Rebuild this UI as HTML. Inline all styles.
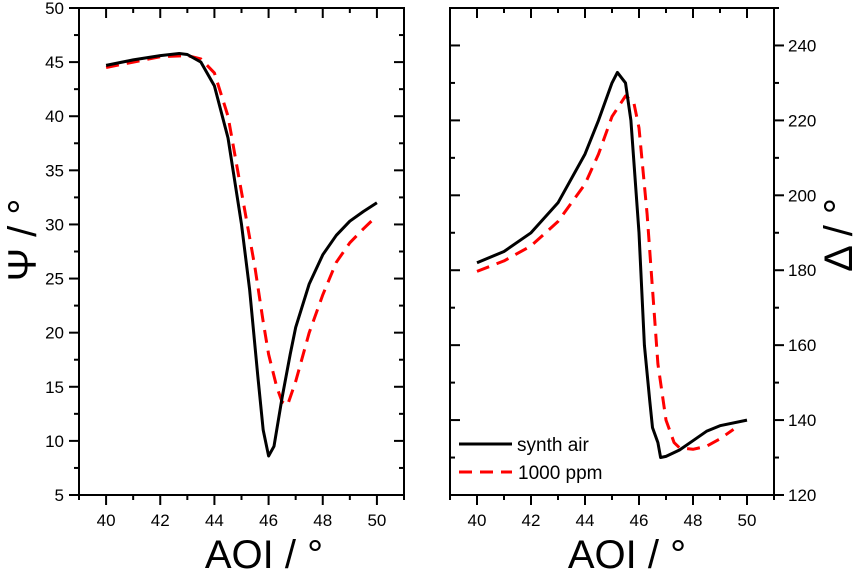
<!DOCTYPE html>
<html><head><meta charset="utf-8"><style>
body{margin:0;background:#fff}
svg text{font-family:"Liberation Sans",sans-serif;fill:#000}
</style></head><body>
<svg id="c" width="860" height="571" viewBox="0 0 860 571"></svg>
<script>
const aoiBlack=[40,41,42,42.7,43,43.5,44,44.5,45,45.3,45.6,45.8,46,46.2,46.5,46.8,47,47.5,48,48.5,49,49.5,50];
const psiBlack=[44.7,45.2,45.6,45.8,45.7,45.0,42.8,38,30,24,16,11,8.6,9.5,14,18,20.5,24.5,27.2,29,30.3,31.2,32];
const aoiRed=[40,41,42,43,43.5,44,44.5,45,45.5,45.8,46,46.3,46.5,46.7,47,47.5,48,48.5,49,49.5,50];
const psiRed=[44.5,45.0,45.5,45.6,45.3,44,40,33,26,21,18,15,13.6,13.3,15.5,20,23.5,26.5,28.3,29.6,30.8];
const aoiBlackD=[40,41,42,43,44,44.5,45,45.2,45.5,45.7,46,46.2,46.4,46.5,46.7,46.8,47,47.5,48,48.5,49,50];
const delBlack=[182,185,190,198,211,220,230,232.8,230,220,190,160,145,138,134,130,130.3,132,134.5,137,138.5,140];
const aoiRedD=[40,41,42,43,44,44.5,45,45.5,45.8,46,46.3,46.5,46.7,47,47.3,47.5,48,48.5,49,49.5];
const delRed=[179.7,182.5,186.5,193,203,211,221,226.5,225,218,195,175,155,140,134,132.6,132.2,133,135,137.5];
const xTicks=[40,42,44,46,48,50];
const psiTicks=[5,10,15,20,25,30,35,40,45,50];
const delTicks=[120,140,160,180,200,220,240];

const svg=document.getElementById('c');const NS='http://www.w3.org/2000/svg';
function el(t,a,p){const e=document.createElementNS(NS,t);for(const k in a)e.setAttribute(k,a[k]);(p||svg).appendChild(e);return e;}
function panel(name,x0,x1,yTop,yBot,ymin,ymax,yTicks,yMinorStep,labelSide,series){
  const g=el('g',{});
  
  
  const sx=v=>x0+(v-39)/(51-39)*(x1-x0);
  const sy=v=>yBot-(v-ymin)/(ymax-ymin)*(yBot-yTop);
  const fr=el('rect',{x:x0,y:yTop,width:x1-x0,height:yBot-yTop,fill:'none',stroke:'#000','stroke-width':2},g);
  
  
  for(let v=39;v<=51;v+=1){const maj=(v%2===0);const L=maj?10:5;
    el('line',{x1:sx(v),x2:sx(v),y1:yBot,y2:yBot+L,stroke:'#000','stroke-width':2},g);
    el('line',{x1:sx(v),x2:sx(v),y1:yTop,y2:yTop+L,stroke:'#000','stroke-width':2},g);}
  xTicks.forEach(v=>{const t=el('text',{x:sx(v),y:yBot+31,'font-size':17,'text-anchor':'middle'},g);t.textContent=v;
    });
  for(let v=ymin;v<=ymax+1e-9;v+=yMinorStep){const maj=yTicks.includes(Math.round(v*10)/10);const L=maj?10:5;const y=sy(v);
    if(labelSide==='left'){el('line',{x1:x0-L,x2:x0,y1:y,y2:y,stroke:'#000','stroke-width':2},g);el('line',{x1:x1-L,x2:x1,y1:y,y2:y,stroke:'#000','stroke-width':2},g);}
    else{el('line',{x1:x0,x2:x0+L,y1:y,y2:y,stroke:'#000','stroke-width':2},g);el('line',{x1:x1,x2:x1+L,y1:y,y2:y,stroke:'#000','stroke-width':2},g);}}
  yTicks.forEach(v=>{const t=labelSide==='left'?el('text',{x:x0-15,y:sy(v)+6,'font-size':17,'text-anchor':'end'},g):el('text',{x:x1+14,y:sy(v)+6,'font-size':17,'text-anchor':'start'},g);
    t.textContent=v;});
  series.forEach(s=>{const d=s.x.map((v,i)=>(i?'L':'M')+sx(v).toFixed(1)+' '+sy(s.y[i]).toFixed(1)).join(' ');
    const p=el('path',{d:d,fill:'none',stroke:s.c,'stroke-width':3,'stroke-dasharray':s.dash||'none','stroke-linejoin':'round'},g);
    });
}
panel('psi-panel',79,404,8,495,5,50,psiTicks,2.5,'left',[
  {x:aoiRed,y:psiRed,c:'#f00',dash:'13 8',n:'psi-1000ppm-line'},
  {x:aoiBlack,y:psiBlack,c:'#000',n:'psi-synth-air-line'}]);
panel('delta-panel',450,774,8,495,120,250,delTicks,10,'right',[
  {x:aoiRedD,y:delRed,c:'#f00',dash:'13 8',n:'delta-1000ppm-line'},
  {x:aoiBlackD,y:delBlack,c:'#000',n:'delta-synth-air-line'}]);
function txt(s,a,n){const t=el('text',a);t.textContent=s;return t;}
txt('AOI / °',{x:264,y:568,'font-size':40,'text-anchor':'middle'},'x-axis-title-left');
txt('AOI / °',{x:627,y:568,'font-size':40,'text-anchor':'middle'},'x-axis-title-right');
txt('Ψ / °',{x:0,y:0,'font-size':40,'text-anchor':'middle','font-family':'Liberation Serif,serif',transform:'translate(36,240) rotate(-90)'},'psi-axis-title');
txt('Δ / °',{x:0,y:0,'font-size':40,'text-anchor':'middle',transform:'translate(852,235) rotate(-90)'},'delta-axis-title');
const lg=el('g',{});


el('line',{x1:459,x2:512,y1:444,y2:444,stroke:'#000','stroke-width':3},lg);
el('line',{x1:459,x2:512,y1:472,y2:472,stroke:'#f00','stroke-width':3,'stroke-dasharray':'13 8'},lg);
const t1=el('text',{x:517,y:451,'font-size':19},lg);t1.textContent='synth air';

const t2=el('text',{x:518,y:479,'font-size':19},lg);t2.textContent='1000 ppm';

</script>
</body></html>
